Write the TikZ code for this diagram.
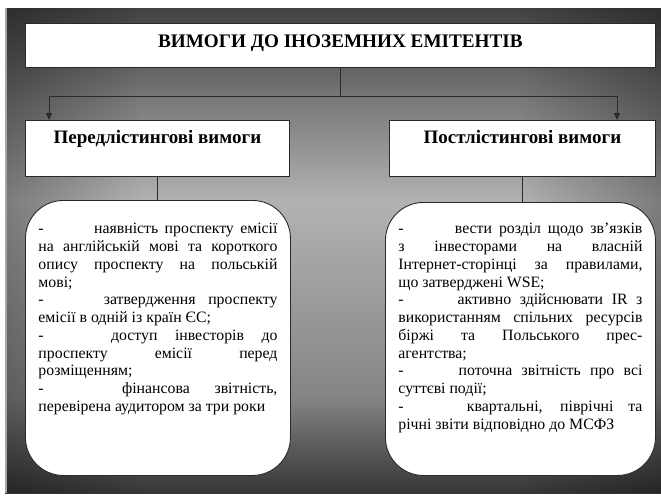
\documentclass[tikz,border=0pt]{standalone}
\usepackage{fontspec}
\setmainfont{Liberation Serif}
\usetikzlibrary{arrows.meta,fadings}
\definecolor{gA}{HTML}{363636}
\definecolor{gB}{HTML}{858585}
\definecolor{gC}{HTML}{B2B2B2}
\definecolor{gD}{HTML}{7C7C7C}
\definecolor{gE}{HTML}{5C5C5C}
\definecolor{gF}{HTML}{424242}
\definecolor{lineC}{HTML}{2A2A2A}
\pgfdeclareverticalshading{bgv}{100bp}{color(0bp)=(gA); color(25bp)=(gA); color(35bp)=(gB); color(55bp)=(gC); color(65bp)=(gD); color(70bp)=(gE); color(75bp)=(gF); color(100bp)=(gF)}
\tikzfading[name=fadeR, left color=transparent!0, right color=transparent!100]
\tikzfading[name=fadeL, left color=transparent!100, right color=transparent!0]
\newcommand{\jl}[1]{\makebox[\linewidth][s]{#1}}
\newcommand{\dsh}{\makebox[44pt][l]{-}\hspace{8pt plus 3pt}}
\tikzset{
  plainbox/.style={draw=lineC, line width=0.8pt, fill=white, rectangle, anchor=north west, inner sep=4pt},
  titlebox/.style={plainbox, minimum width=630pt, font=\bfseries\fontsize{19.2pt}{21pt}\selectfont, text height=20pt, text depth=16pt},
  headbox/.style={plainbox, minimum width=264pt, font=\bfseries\fontsize{19pt}{20pt}\selectfont, text height=19pt, text depth=29pt},
  listbox/.style={draw=lineC, line width=0.9pt, fill=white, rounded corners=38pt, anchor=north west, inner xsep=13pt, inner ysep=10pt, font=\fontsize{15.8pt}{17.75pt}\selectfont},
  conn/.style={draw=lineC, line width=0.8pt},
  arr/.style={conn, -{Triangle[length=7pt,width=6pt]}}
}
\begin{document}
\begin{tikzpicture}[x=1pt,y=-1pt]
\useasboundingbox (0,0) rectangle (661,501);
\shade[shading=bgv] (5,8) rectangle (661,493);
\fill[black, path fading=fadeR, fill opacity=0.3] (5,8) rectangle (140,493);
\fill[black, path fading=fadeL, fill opacity=0.3] (521,8) rectangle (661,493);
\draw[gray!70, line width=1.5pt] (6,8) -- (6,493);

\node[titlebox] (title) at (25,23) {ВИМОГИ ДО ІНОЗЕМНИХ ЕМІТЕНТІВ};
\node[headbox] (lh) at (25,120) {Передлістингові вимоги};
\node[headbox, minimum width=266pt] (rh) at (389,120) {Постлістингові вимоги};

\node[listbox] (lb) at (25,200) {\parbox[c][255pt][t]{239pt}{\setlength{\parindent}{0pt}\vspace*{13pt}%
\jl{\dsh наявність проспекту емісії}\\
\jl{на англійській мові та короткого}\\
\jl{опису проспекту на польській}\\
мові;\\
\jl{\dsh затвердження проспекту}\\
емісії в одній із країн ЄС;\\
\jl{\dsh доступ інвесторів до}\\
\jl{проспекту емісії перед}\\
розміщенням;\\
\jl{\dsh фінансова звітність,}\\
перевірена аудитором за три роки}};

\node[listbox] (rb) at (385,202) {\parbox[c][253pt][t]{244pt}{\setlength{\parindent}{0pt}\vspace*{11pt}%
\jl{\dsh вести розділ щодо зв{\char"27}язків}\\
\jl{з інвесторами на власній}\\
\jl{Інтернет-сторінці за правилами,}\\
що затверджені WSE;\\
\jl{\dsh активно здійснювати IR з}\\
\jl{використанням спільних ресурсів}\\
\jl{біржі та Польського прес-}\\
агентства;\\
\jl{\dsh поточна звітність про всі}\\
суттєві події;\\
\jl{\dsh квартальні, піврічні та}\\
річні звіти відповідно до МСФЗ}};

\coordinate (hl) at (49,96);
\coordinate (hr) at (617,96);
\draw[conn] (title.south) -- (title.south |- hl);
\draw[conn] (hl) -- (hr);
\draw[arr] (hl) -- (hl |- lh.north);
\draw[arr] (hr) -- (hr |- rh.north);
\draw[conn] (lh.south) -- (lh.south |- lb.north);
\draw[conn] (rh.south) -- (rh.south |- rb.north);
\end{tikzpicture}
\end{document}
